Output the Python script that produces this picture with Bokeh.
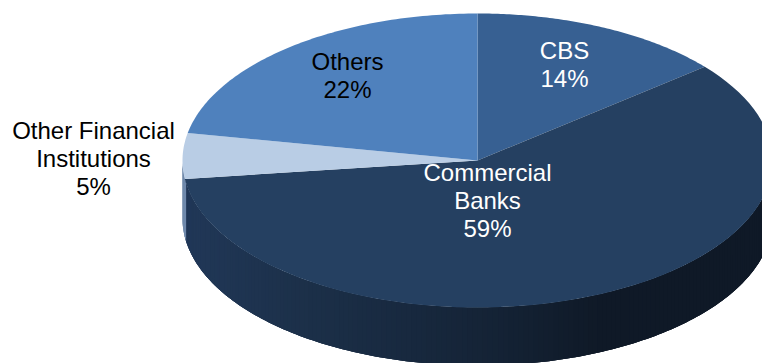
import numpy as np
from bokeh.plotting import figure
from bokeh.embed import file_html
from bokeh.resources import INLINE
from bokeh.core.properties import value

# Share of each group, clockwise from twelve o'clock
categories = ["CBS", "Commercial Banks", "Other Financial Institutions", "Others"]
shares = [14, 59, 5, 22]
top_colors = ["#376092", "#254061", "#B9CDE5", "#4F81BD"]

# Label lines and their anchor points
label_lines = [["CBS", "14%"], ["Commercial", "Banks", "59%"],
               ["Other Financial", "Institutions", "5%"], ["Others", "22%"]]
label_colors = ["white", "white", "black", "black"]
label_anchor_x = [564, 487, 93, 347]
label_first_y = [49.5, 171.5, 129.5, 60.5]
LINE_STEP = 28.3

# Ellipse of the tilted disc and its thickness
CX, CY, RX, RY, DEPTH = 477, 160, 295, 147, 58

# Side shading stops: horizontal position on the disc to colour
shade_x = [182, 300, 400, 500, 587, 772]
shade_rgb = [(33, 56, 88), (28, 48, 73), (24, 41, 63), (20, 34, 52), (16, 26, 40), (15, 25, 39)]
# Narrow side of the pale slice at the far left
pale_side_rgb = (112, 138, 172)


def rim(theta):
    return CX + RX * np.sin(theta), CY - RY * np.cos(theta)


p = figure(width=762, height=363, x_range=(0, 762), y_range=(363, 0),
           output_backend="svg", toolbar_location=None, min_border=0)
p.axis.visible = False
p.grid.visible = False
p.outline_line_color = None
p.background_fill_color = "white"

edges = np.radians(np.cumsum([0] + shares) * 3.6)

# Side wall as overlapping slats, painted right to left so no seams show
wall_t = np.linspace(np.pi / 2, 1.5 * np.pi, 181)
wx, wy = rim(wall_t)
xs, ys, cols = [], [], []
for i in range(len(wall_t) - 1):
    mx = (wx[i] + wx[i + 1]) / 2
    rgb = [int(np.interp(mx, shade_x, [c[k] for c in shade_rgb])) for k in range(3)]
    if wall_t[i] >= edges[2]:
        rgb = pale_side_rgb
    j = max(i - 2, 0)
    seg_x = wx[j:i + 2]
    seg_y = wy[j:i + 2]
    xs.append(np.r_[seg_x, seg_x[::-1]])
    ys.append(np.r_[seg_y, seg_y[::-1] + DEPTH])
    cols.append("#%02x%02x%02x" % tuple(rgb))
p.patches(xs, ys, fill_color=cols, line_color=None)

# Top face, one slice per share
for i, color in enumerate(top_colors):
    t = np.linspace(edges[i], edges[i + 1], 90)
    ex, ey = rim(t)
    p.patch(np.r_[CX, ex], np.r_[CY, ey], fill_color=color, line_color=None)

for lines, col, x, y0 in zip(label_lines, label_colors, label_anchor_x, label_first_y):
    p.text([x] * len(lines), [y0 + k * LINE_STEP for k in range(len(lines))], text=lines,
           text_color=col, text_font=value("Liberation Sans"), text_font_size="24px",
           text_align="center", text_baseline="middle")

open("out.html", "w").write(file_html(p, INLINE))
